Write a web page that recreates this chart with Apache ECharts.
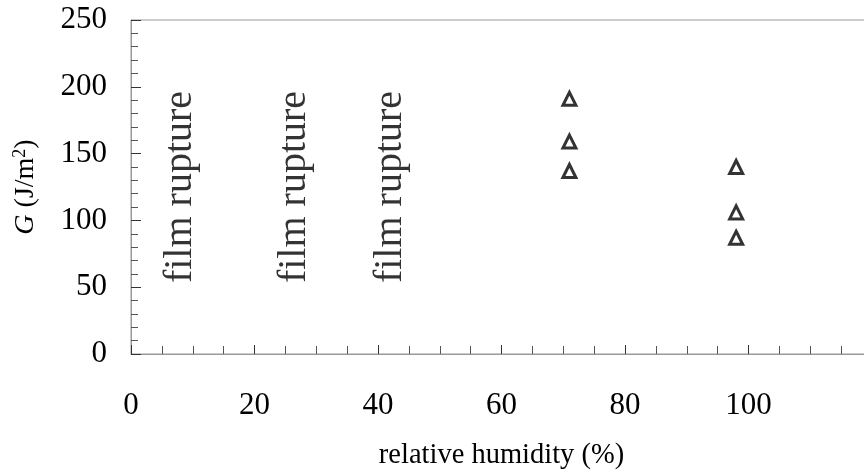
<!DOCTYPE html>
<html><head><meta charset="utf-8">
<script src="https://cdn.jsdelivr.net/npm/echarts@6/dist/echarts.min.js"></script>
<style>html,body{margin:0;padding:0;background:#fff;overflow:hidden;width:864px;height:476px}#c{width:872px;height:476px}</style>
</head><body><div id="c"></div>
<script>
var humidity = [71, 71, 71, 98, 98, 98];
var G = [191, 159, 137, 140, 106, 87];
var ruptureX = [8, 26.5, 42];
var ruptureY = [125, 125, 125];
var ruptureText = "film rupture";
var xTicks = [0, 20, 40, 60, 80, 100];
var yTicks = [0, 50, 100, 150, 200, 250];

var font = "'Liberation Serif', 'Times New Roman', serif";
var chart = echarts.init(document.getElementById('c'));
chart.setOption({
  animation: false,
  backgroundColor: '#fff',
  grid: {left: 131, top: 20, right: 0, bottom: 122, containLabel: false, outerBoundsMode: 'none',
         show: true, borderColor: '#999', borderWidth: 1},
  xAxis: {
    type: 'value', min: 0, max: 120, interval: 20,
    name: 'relative humidity (%)', nameLocation: 'middle', nameGap: 87,
    nameTextStyle: {fontFamily: font, fontSize: 28.5, color: '#000'},
    axisLine: {show: true, lineStyle: {color: '#999', width: 1}},
    axisTick: {show: true, inside: true, length: 9, lineStyle: {color: '#333'}},
    minorTick: {show: true, splitNumber: 4, length: 8, lineStyle: {color: '#555'}},
    splitLine: {show: false},
    axisLabel: {fontFamily: font, fontSize: 31, color: '#000', margin: 36,
      showMaxLabel: false,
      formatter: function (v) { return xTicks.indexOf(v) >= 0 ? String(v) : ''; }}
  },
  yAxis: {
    type: 'value', min: 0, max: 250, interval: 50,
    name: '{i|G} (J/m{s|2})', nameLocation: 'middle', nameGap: 90, nameRotate: 90,
    nameTextStyle: {fontFamily: font, fontSize: 28, color: '#000',
      rich: {i: {fontFamily: font, fontSize: 28, fontStyle: 'italic', color: '#000'},
             s: {fontFamily: font, fontSize: 18, color: '#000', verticalAlign: 'top', padding: [0, 0, 12, 0]}}},
    axisLine: {show: true, lineStyle: {color: '#999', width: 1}},
    axisTick: {show: true, inside: true, length: 10, lineStyle: {color: '#333'}},
    minorTick: {show: true, splitNumber: 5, length: 7, lineStyle: {color: '#555'}},
    splitLine: {show: false},
    axisLabel: {fontFamily: font, fontSize: 31, color: '#000', margin: 24,
      formatter: function (v) { return yTicks.indexOf(v) >= 0 ? String(v) : ''; }}
  },
  series: [
    {
      type: 'scatter', symbol: 'triangle', symbolSize: 13,
      itemStyle: {color: '#fff', borderColor: '#000', borderWidth: 3},
      data: humidity.map(function (h, i) { return [h, G[i]]; }),
      z: 5
    },
    {
      type: 'scatter', symbolSize: 0, silent: true,
      data: ruptureX.map(function (x, i) { return [x, ruptureY[i]]; }),
      label: {show: true, position: 'inside', rotate: 90, formatter: ruptureText,
        fontFamily: font, fontSize: 40, color: '#000'}
    }
  ]
});
</script></body></html>
